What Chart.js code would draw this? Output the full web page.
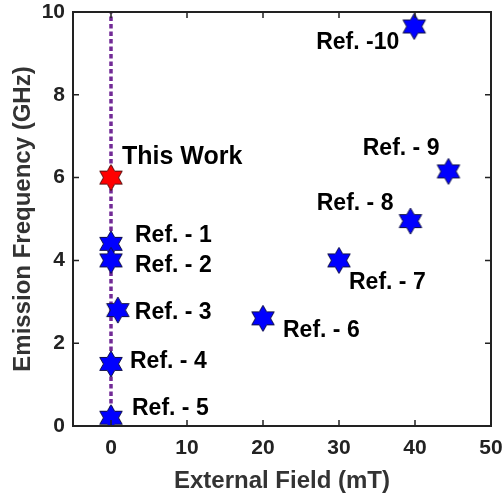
<!DOCTYPE html>
<html>
<head>
<meta charset="utf-8">
<script src="https://cdn.jsdelivr.net/npm/chart.js@4.4.1/dist/chart.umd.min.js"></script>
<style>
  html, body { margin: 0; padding: 0; background: #fff; }
  #wrap { width: 502px; height: 498px; }
</style>
</head>
<body>
<div id="wrap"><canvas id="c"></canvas></div>
<script>
// data
const refNames = ['Ref. - 1', 'Ref. - 2', 'Ref. - 3', 'Ref. - 4', 'Ref. - 5',
                  'Ref. - 6', 'Ref. - 7', 'Ref. - 8', 'Ref. - 9', 'Ref. -10'];
const refField = [0, 0, 0.9, 0, 0, 20, 30, 39.4, 44.4, 39.9];
const refFreq  = [4.4, 4.0, 2.8, 1.5, 0.2, 2.6, 4.0, 4.95, 6.15, 9.65];
const workName  = 'This Work';
const workField = [0];
const workFreq  = [6.0];
const xTicks = [0, 10, 20, 30, 40, 50];
const yTicks = [0, 2, 4, 6, 8, 10];

// label placement next to each star (px from the point), align
const refLabelPos = [
  [24, -8, 'left'], [24, 5, 'left'], [17, 3, 'left'], [19, -2, 'left'], [21, -9, 'left'],
  [20, 12, 'left'], [10, 22, 'left'], [-17, -17, 'right'], [-9, -23, 'right'], [-15, 16, 'right']
];
const workLabelPos = [11, -20, 'left'];

const FONT = '"Liberation Sans", Arial, Helvetica, sans-serif';

// six-pointed star marker
function hexStar(fill, stroke) {
  const R = 13, r = R / Math.sqrt(3), pad = 2;
  const s = (R + pad) * 2;
  const cv = document.createElement('canvas');
  cv.width = s; cv.height = s;
  const g = cv.getContext('2d');
  g.beginPath();
  for (let k = 0; k < 12; k++) {
    const a = (-90 + k * 30) * Math.PI / 180;
    const rad = k % 2 === 0 ? R : r;
    const px = s / 2 + rad * Math.cos(a), py = s / 2 + rad * Math.sin(a);
    k === 0 ? g.moveTo(px, py) : g.lineTo(px, py);
  }
  g.closePath();
  g.fillStyle = fill; g.fill();
  g.lineWidth = 1; g.strokeStyle = stroke; g.stroke();
  return cv;
}
const blueStar = hexStar('#0000ff', '#10104a');
const redStar = hexStar('#ff0000', '#5a1010');

// box frame, inward ticks, text labels
const framePlugin = {
  id: 'frame',
  afterDraw(chart) {
    const ctx = chart.ctx, a = chart.chartArea;
    const xs = chart.scales.x, ys = chart.scales.y;
    ctx.save();
    ctx.strokeStyle = '#222';
    ctx.lineWidth = 2;
    ctx.strokeRect(a.left, a.top, a.right - a.left, a.bottom - a.top);
    const tl = 6;
    ctx.lineWidth = 1.5;
    ctx.beginPath();
    xTicks.forEach(v => {
      const px = xs.getPixelForValue(v);
      ctx.moveTo(px, a.bottom); ctx.lineTo(px, a.bottom - tl);
      ctx.moveTo(px, a.top); ctx.lineTo(px, a.top + tl);
    });
    yTicks.forEach(v => {
      const py = ys.getPixelForValue(v);
      ctx.moveTo(a.left, py); ctx.lineTo(a.left + tl, py);
      ctx.moveTo(a.right, py); ctx.lineTo(a.right - tl, py);
    });
    ctx.stroke();

    ctx.fillStyle = '#000';
    ctx.textBaseline = 'middle';
    ctx.font = 'bold 23px ' + FONT;
    const pts = chart.getDatasetMeta(1).data;
    pts.forEach((p, i) => {
      const o = refLabelPos[i];
      ctx.textAlign = o[2];
      ctx.fillText(refNames[i], p.x + o[0], p.y + o[1]);
    });
    const w = chart.getDatasetMeta(2).data[0];
    ctx.font = 'bold 25px ' + FONT;
    ctx.textAlign = workLabelPos[2];
    ctx.fillText(workName, w.x + workLabelPos[0], w.y + workLabelPos[1]);
    ctx.restore();
  }
};

new Chart(document.getElementById('c'), {
  type: 'scatter',
  data: {
    datasets: [
      {
        type: 'line',
        data: [{ x: 0, y: yTicks[0] }, { x: 0, y: yTicks[yTicks.length - 1] }],
        borderColor: '#722a96',
        borderWidth: 3.5,
        borderDash: [4.5, 3],
        pointRadius: 0,
        order: 3
      },
      {
        data: refField.map((x, i) => ({ x: x, y: refFreq[i] })),
        pointStyle: blueStar,
        order: 2
      },
      {
        data: workField.map((x, i) => ({ x: x, y: workFreq[i] })),
        pointStyle: redStar,
        order: 1
      }
    ]
  },
  options: {
    responsive: true,
    maintainAspectRatio: false,
    animation: false,
    layout: { padding: 0 },
    plugins: { legend: { display: false }, tooltip: { enabled: false } },
    scales: {
      x: {
        type: 'linear', min: -5, max: 50,
        afterBuildTicks: s => { s.ticks = xTicks.map(v => ({ value: v })); },
        afterFit: s => { s.height = 72; s.paddingRight = 11; s.paddingLeft = 0; },
        grid: { display: false, drawTicks: false },
        border: { display: false },
        ticks: { color: '#222', padding: 10, font: { family: FONT, size: 21, weight: 'bold' } },
        title: { display: true, text: 'External Field (mT)', color: '#333', padding: { top: 2, bottom: 2 },
                 font: { family: FONT, size: 24, weight: 'bold' } }
      },
      y: {
        type: 'linear', min: 0, max: 10,
        afterBuildTicks: s => { s.ticks = yTicks.map(v => ({ value: v })); },
        afterFit: s => { s.width = 73; s.paddingTop = 12; s.paddingBottom = 0; },
        grid: { display: false, drawTicks: false },
        border: { display: false },
        ticks: { color: '#222', padding: 8, font: { family: FONT, size: 21, weight: 'bold' } },
        title: { display: true, text: 'Emission Frequency (GHz)', color: '#333', padding: { top: 9, bottom: 4 },
                 font: { family: FONT, size: 24, weight: 'bold' } }
      }
    }
  },
  plugins: [framePlugin]
});
</script>
</body>
</html>
